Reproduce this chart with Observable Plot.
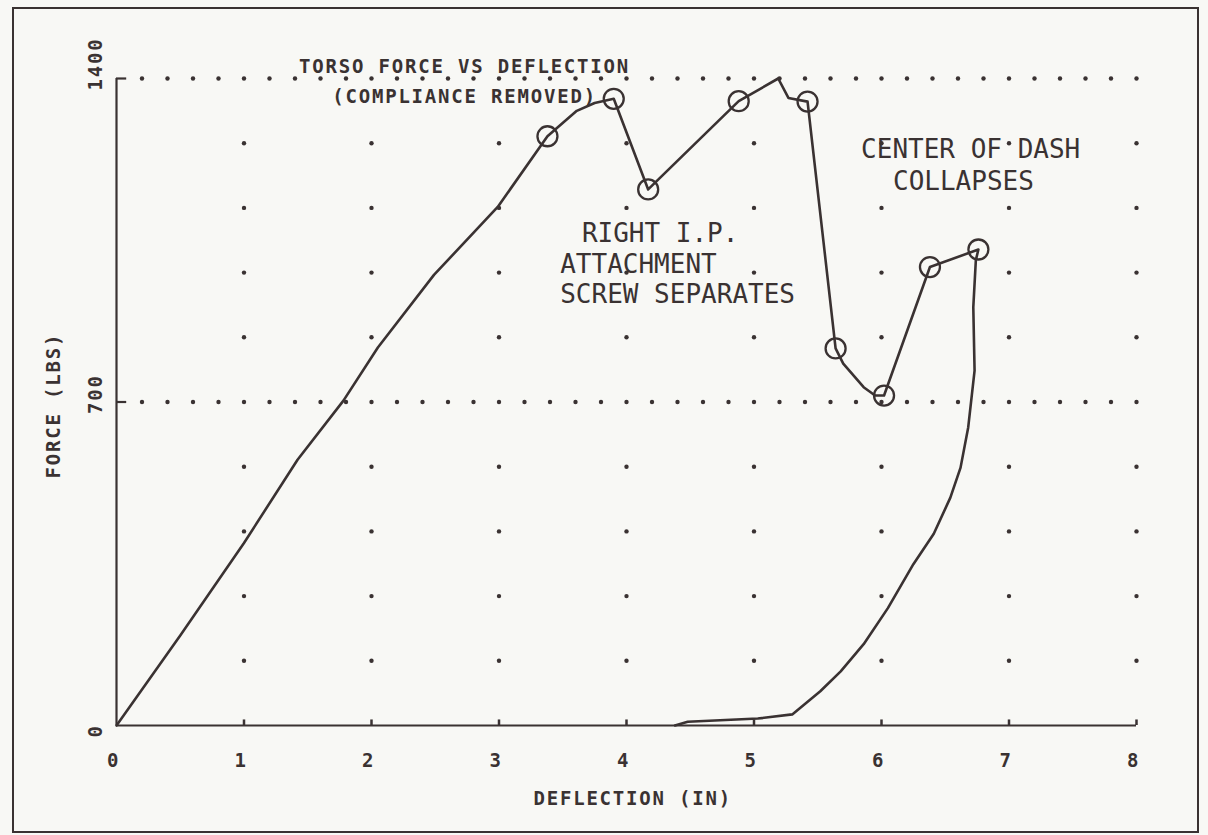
<!DOCTYPE html>
<html><head><meta charset="utf-8">
<script src="https://cdn.jsdelivr.net/npm/d3@7"></script>
<script src="https://cdn.jsdelivr.net/npm/@observablehq/plot@0.6"></script>
<style>
html,body{margin:0;padding:0;background:#f8f8f5;}
#wrap{position:relative;width:1208px;height:835px;overflow:hidden;background:#f8f8f5;}
#frame{position:absolute;left:12px;top:7px;width:1187px;height:826px;border:2.5px solid #3a3232;box-sizing:border-box;}
#chart{position:absolute;left:0;top:0;}
g[font-weight="bold"] text{letter-spacing:1.8px;}
</style></head><body>
<div id="wrap"><div id="frame"></div><div id="chart"></div></div>
<script>
// Force vs deflection trace (inches, lbs), in drawing order
const deflection = [0, 0.5, 1.0, 1.42, 1.78, 2.05, 2.49, 2.99, 3.38, 3.61, 3.75, 3.90, 4.17, 4.88, 5.19, 5.27, 5.42,
  5.64, 5.70, 5.86, 5.95, 6.02, 6.38, 6.76,
  6.74, 6.72, 6.73, 6.68, 6.62, 6.54, 6.41, 6.25, 6.05, 5.86, 5.68, 5.52, 5.30, 5.03, 4.48, 4.38];
const force = [0, 195, 395, 575, 703, 818, 975, 1122, 1275, 1330, 1347, 1356, 1160, 1351, 1400, 1358, 1350,
  816, 783, 732, 714, 714, 992, 1030,
  1007, 905, 768, 645, 558, 493, 415, 349, 254, 176, 117, 74, 24, 15, 8, 0];
// circled points
const markerDeflection = [3.38, 3.90, 4.17, 4.88, 5.42, 5.64, 6.02, 6.38, 6.76];
const markerForce = [1275, 1356, 1160, 1351, 1350, 816, 714, 992, 1030];

const xTicks = [0, 1, 2, 3, 4, 5, 6, 7, 8];
const yTicks = [0, 700, 1400];
const gridX = [1, 2, 3, 4, 5, 6, 7, 8];
const gridY = [140, 280, 420, 560, 840, 980, 1120, 1260];
const denseY = [700, 1400];
const denseX = [0.2,0.4,0.6,0.8,1,1.2,1.4,1.6,1.8,2,2.2,2.4,2.6,2.8,3,3.2,3.4,3.6,3.8,4,4.2,4.4,4.6,4.8,5,5.2,5.4,5.6,5.8,6,6.2,6.4,6.6,6.8,7,7.2,7.4,7.6,7.8,8];

const titleLines = ["TORSO FORCE VS DEFLECTION", "(COMPLIANCE REMOVED)"];
const xLabel = "DEFLECTION (IN)";
const yLabel = "FORCE (LBS)";
const noteIP = ["RIGHT I.P.", "ATTACHMENT", "SCREW SEPARATES"];
const noteDash = ["CENTER OF DASH", "COLLAPSES"];

const ink = "#3a3232";
const curve = deflection.map((d, i) => ({x: d, y: force[i]}));
const markers = markerDeflection.map((d, i) => ({x: d, y: markerForce[i]}));
const grid = gridY.flatMap(y => gridX.map(x => ({x, y})));
const dense = denseY.flatMap(y => denseX.map(x => ({x, y})));

const plotFont = {fontFamily: "DejaVu Sans Mono", fontWeight: "bold", fill: ink};
const noteFont = {fontFamily: "DejaVu Sans Mono", fontWeight: "normal", fontSize: 26, fill: ink, textAnchor: "start", lineAnchor: "bottom"};

const chart = Plot.plot({
  width: 1208, height: 835,
  marginLeft: 116, marginRight: 72, marginTop: 78, marginBottom: 110,
  x: {domain: [0, 8], axis: null},
  y: {domain: [0, 1400], axis: null},
  style: {background: "transparent", color: ink, fontFamily: "DejaVu Sans Mono"},
  marks: [
    Plot.dot(grid, {x: "x", y: "y", r: 2.2, fill: ink, stroke: null}),
    Plot.dot(dense, {x: "x", y: "y", r: 2.2, fill: ink, stroke: null}),
    Plot.ruleX([0], {y1: 0, y2: 1400, stroke: ink, strokeWidth: 2.2}),
    Plot.ruleY([0], {x1: 0, x2: 8, stroke: ink, strokeWidth: 2.2}),
    Plot.ruleY([700, 1400], {x1: 0, x2: 0.08, stroke: ink, strokeWidth: 2.2}),
    Plot.ruleX(xTicks.slice(1), {y1: 0, y2: 12, stroke: ink, strokeWidth: 2.5}),
    Plot.line(curve, {x: "x", y: "y", stroke: ink, strokeWidth: 2.6, strokeLinejoin: "round"}),
    Plot.dot(markers, {x: "x", y: "y", r: 10, stroke: ink, fill: "none", strokeWidth: 2.3}),
    // tick labels
    Plot.text(xTicks, {x: d => d, y: 0, text: d => String(d), dx: -3, dy: 41, lineAnchor: "bottom", fontSize: 19, ...plotFont}),
    Plot.text(yTicks, {x: 0, y: d => d, text: d => String(d), rotate: -90, textAnchor: "start", lineAnchor: "bottom", dx: -15, dy: 12, fontSize: 19, ...plotFont}),
    // axis titles
    Plot.text([xLabel], {x: 3.27, y: 0, text: d => d, textAnchor: "start", lineAnchor: "bottom", dy: 79, fontSize: 19, ...plotFont}),
    Plot.text([yLabel], {x: 0, y: 692, text: d => d, rotate: -90, textAnchor: "middle", lineAnchor: "bottom", dx: -57, fontSize: 19, ...plotFont}),
    // chart title
    Plot.text(titleLines, {x: 2.73, y: [1411, 1348], text: d => d, textAnchor: "middle", lineAnchor: "bottom", fontSize: 19, ...plotFont}),
    // annotations
    Plot.text(noteIP, {x: [3.65, 3.48, 3.48], y: [1047, 980, 915], text: d => d, ...noteFont}),
    Plot.text(noteDash, {x: [5.84, 6.09], y: [1227, 1158], text: d => d, ...noteFont})
  ]
});
document.getElementById("chart").appendChild(chart);
</script>
</body></html>
